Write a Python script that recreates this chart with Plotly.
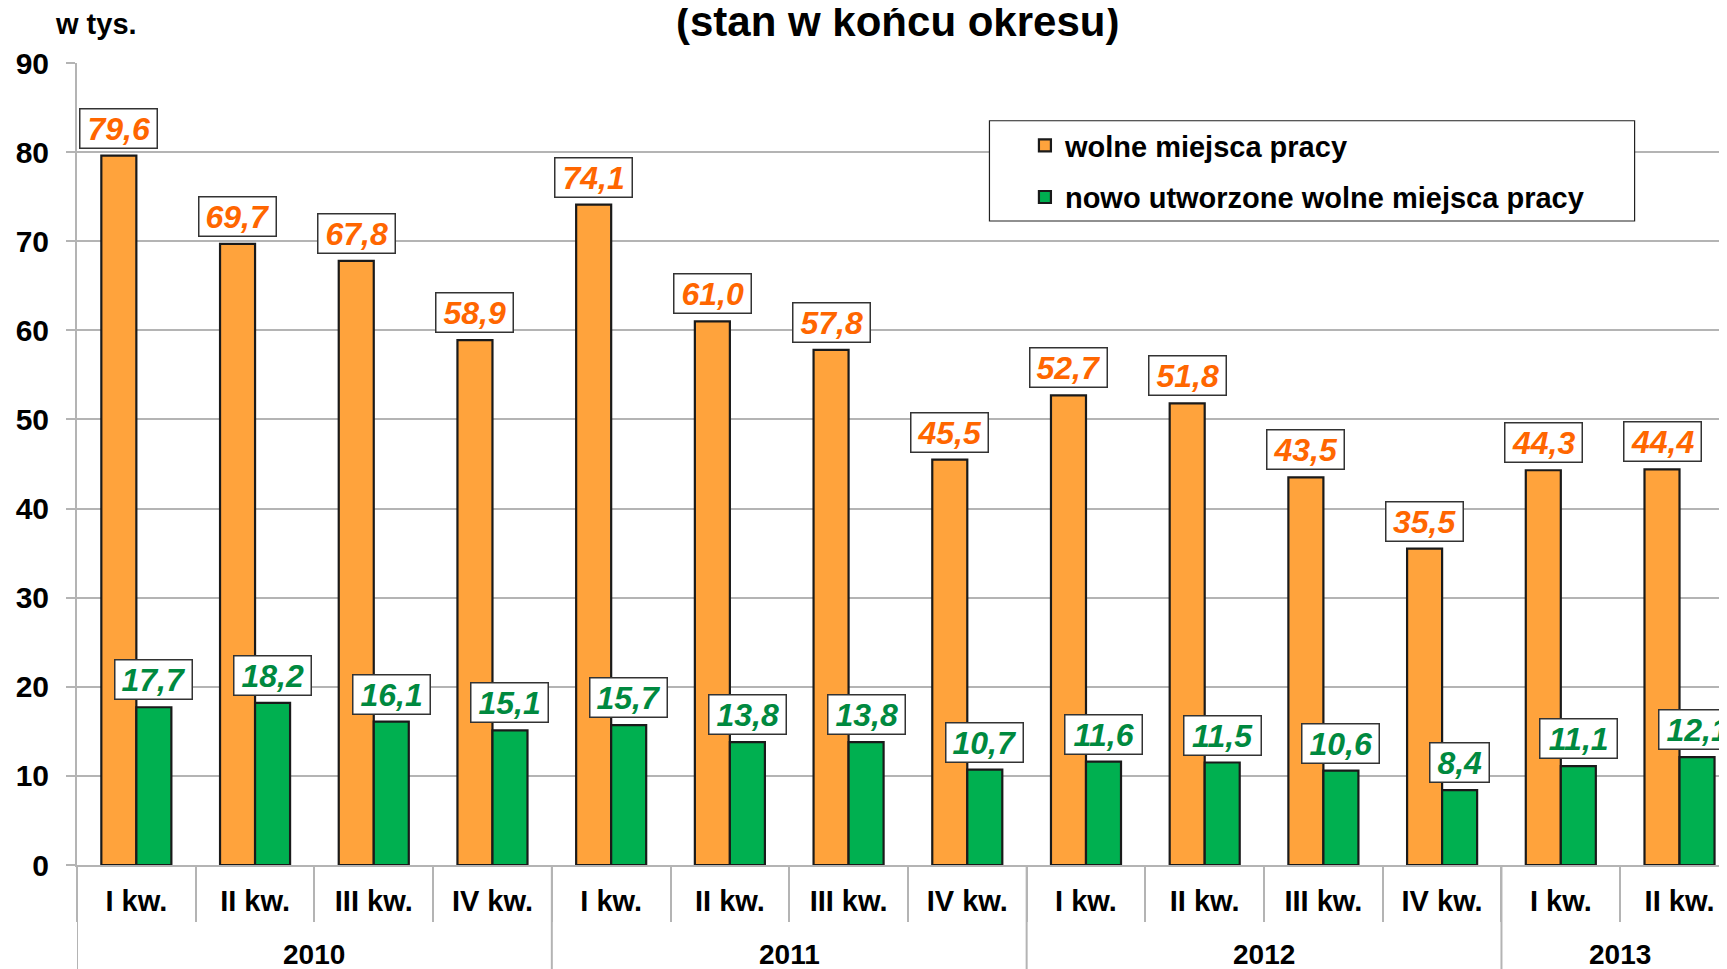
import plotly.graph_objects as go

quarters = ["I kw.", "II kw.", "III kw.", "IV kw.",
            "I kw.", "II kw.", "III kw.", "IV kw.",
            "I kw.", "II kw.", "III kw.", "IV kw.",
            "I kw.", "II kw."]
years = ["2010", "2011", "2012", "2013"]
year_sizes = [4, 4, 4, 2]
wolne = [79.6, 69.7, 67.8, 58.9, 74.1, 61.0, 57.8, 45.5, 52.7, 51.8, 43.5, 35.5, 44.3, 44.4]
nowo = [17.7, 18.2, 16.1, 15.1, 15.7, 13.8, 13.8, 10.7, 11.6, 11.5, 10.6, 8.4, 11.1, 12.1]
y_ticks = [0, 10, 20, 30, 40, 50, 60, 70, 80, 90]

FONT = "Liberation Sans, Arial, sans-serif"
ORANGE = "#FFA33C"
GREEN = "#00B050"
ORANGE_TXT = "#FF6600"
GREEN_TXT = "#00893F"
GRID = "#B4B4B4"

x = list(range(len(quarters)))
BARGAP = 0.41
bw = (1 - BARGAP) / 2

fig = go.Figure()
fig.add_bar(x=x, y=wolne, name="wolne miejsca pracy", legendgroup="a",
            marker=dict(color=ORANGE, line=dict(color="#1A1A1A", width=2.2)))
fig.add_bar(x=x, y=nowo, name="nowo utworzone wolne miejsca pracy", legendgroup="b",
            marker=dict(color=GREEN, line=dict(color="#1A1A1A", width=2.2)))


def label_width(txt, size=32):
    w = 0
    for ch in txt:
        w += 0.278 if ch == "," else 0.556
    return w * size + 12


for series, off, col in ((wolne, -bw / 2, ORANGE_TXT), (nowo, bw / 2, GREEN_TXT)):
    for i, v in enumerate(series):
        txt = f"{v:.1f}".replace(".", ",")
        fig.add_annotation(
            x=i + off, y=v, xref="x", yref="y",
            text=f"<b><i>{txt}</i></b>", showarrow=False,
            xanchor="center", yanchor="bottom", yshift=7,
            font=dict(family=FONT, size=32, color=col),
            bgcolor="white", bordercolor="#333333", borderwidth=1.5,
            borderpad=1, width=label_width(txt), height=36,
        )

# year labels and dividers
start = 0
for yr, n in zip(years, year_sizes):
    fig.add_annotation(
        x=start + n / 2 - 0.5, y=0, xref="x", yref="paper",
        text=f"<b>{yr}</b>", showarrow=False, yanchor="middle", yshift=-89,
        font=dict(family=FONT, size=28, color="black"),
    )
    fig.add_shape(type="line", xref="x", yref="paper", x0=start - 0.5, x1=start - 0.5,
                  y0=0, y1=-0.15, line=dict(color=GRID, width=2))
    start += n

# title and unit
fig.add_annotation(x=0.497, y=1, xref="paper", yref="paper", yanchor="middle", yshift=42,
                   text="<b>(stan w końcu okresu)</b>", showarrow=False,
                   font=dict(family=FONT, size=42, color="black"))
fig.add_annotation(x=0, y=1, xref="paper", yref="paper", xanchor="left", yanchor="middle",
                   xshift=-24, yshift=39, text="<b>w tys.</b>", showarrow=False,
                   font=dict(family=FONT, size=29, color="black"))

# legend box
fig.add_shape(type="rect", xref="paper", yref="paper", x0=0.553, x1=0.944, y0=0.803, y1=0.928,
              fillcolor="white", line=dict(color="#222222", width=1.2), layer="above")

fig.update_layout(
    width=1727, height=969,
    margin=dict(l=66, r=8, t=55, b=112),
    paper_bgcolor="white", plot_bgcolor="white",
    barmode="group", bargap=BARGAP, bargroupgap=0,
    font=dict(family=FONT, color="black"),
    legend=dict(x=0.5745, y=0.929, xanchor="left", yanchor="top",
                bgcolor="rgba(0,0,0,0)", borderwidth=0,
                font=dict(family=FONT, size=29, color="black", weight="bold"),
                traceorder="grouped", tracegroupgap=11),
    xaxis=dict(range=[-0.5, 13.4], tickmode="array", tickvals=x, ticktext=quarters,
               ticks="", showgrid=False, zeroline=False,
               showline=True, linecolor=GRID, linewidth=2,
               tickfont=dict(family=FONT, size=29, color="black", weight="bold"),
               ticklabelstandoff=9,
               minor=dict(tickvals=[i - 0.5 for i in range(len(quarters) + 1)],
                          ticks="outside", ticklen=55, tickwidth=2, tickcolor=GRID,
                          showgrid=False)),
    yaxis=dict(range=[0, 90], tickmode="array", tickvals=y_ticks,
               showgrid=True, gridcolor=GRID, gridwidth=1.5, zeroline=False,
               showline=True, linecolor=GRID, linewidth=2,
               ticks="outside", ticklen=9, tickwidth=2, tickcolor=GRID,
               tickfont=dict(family=FONT, size=30, color="black", weight="bold"),
               ticklabelstandoff=11),
)

fig.write_html("out.html")
